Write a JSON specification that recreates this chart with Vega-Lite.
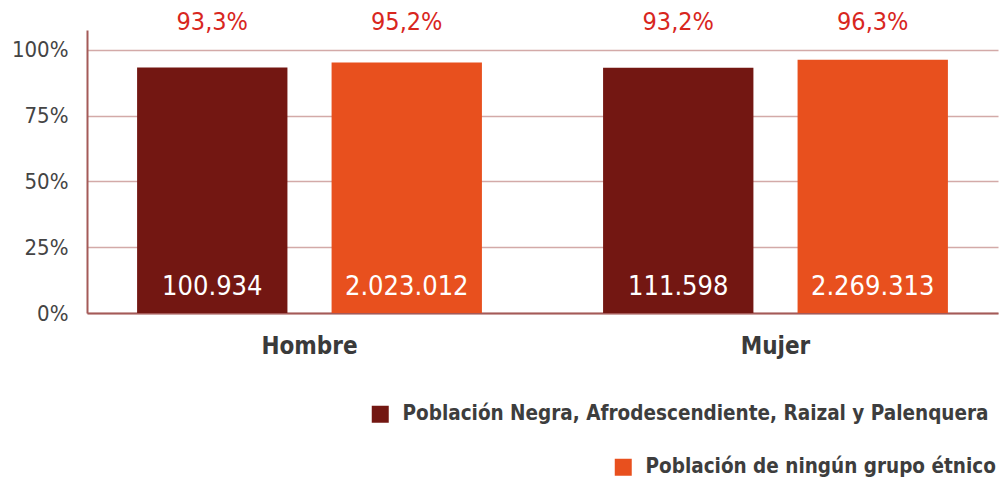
{
  "$schema": "https://vega.github.io/schema/vega-lite/v6.json",
  "autosize": {"type": "none"},
  "width": 911,
  "height": 283,
  "padding": {"left": 87, "top": 30, "right": 4, "bottom": 169},
  "background": "#ffffff",
  "config": {
    "view": {"stroke": null},
    "font": "DejaVu Sans Condensed, sans-serif",
    "locale": {"number": {"decimal": ",", "thousands": ".", "grouping": [3], "currency": ["$", ""]}}
  },
  "data": {
    "values": [
      {"sexo": "Hombre", "serie": "Población Negra, Afrodescendiente, Raizal y Palenquera", "pct": 0.933, "n": 100934},
      {"sexo": "Hombre", "serie": "Población de ningún grupo étnico", "pct": 0.952, "n": 2023012},
      {"sexo": "Mujer", "serie": "Población Negra, Afrodescendiente, Raizal y Palenquera", "pct": 0.932, "n": 111598},
      {"sexo": "Mujer", "serie": "Población de ningún grupo étnico", "pct": 0.963, "n": 2269313}
    ]
  },
  "encoding": {
    "x": {
      "field": "sexo", "type": "nominal", "sort": ["Hombre", "Mujer"],
      "scale": {"paddingInner": 0.26, "paddingOuter": 0.1075},
      "axis": {
        "title": null, "labelAngle": 0, "ticks": false, "labelPadding": 21,
        "labelFontSize": 24, "labelFontWeight": "bold", "labelColor": "#3a3a3a",
        "domainColor": "#a45a58", "domainWidth": 2, "grid": false
      }
    },
    "xOffset": {
      "field": "serie", "type": "nominal",
      "scale": {"domain": ["Población Negra, Afrodescendiente, Raizal y Palenquera", "Población de ningún grupo étnico"], "paddingInner": 0.227, "paddingOuter": 0}
    }
  },
  "layer": [
    {
      "transform": [{"filter": "datum.serie === 'Población Negra, Afrodescendiente, Raizal y Palenquera'"}],
      "mark": {"type": "bar"},
      "encoding": {
        "y": {
          "field": "pct", "type": "quantitative",
          "scale": {"domain": [0, 1.076], "nice": false},
          "axis": {
            "title": null, "values": [0, 0.25, 0.5, 0.75, 1], "format": ".0%",
            "ticks": false, "labelPadding": 19, "labelFontSize": 22, "labelColor": "#444444",
            "gridColor": "#d3aaa8", "gridWidth": 1.5, "domainColor": "#a45a58", "domainWidth": 2
          }
        },
        "color": {
          "field": "serie", "type": "nominal",
          "scale": {"domain": ["Población Negra, Afrodescendiente, Raizal y Palenquera"], "range": ["#731712"]},
          "legend": {
            "title": null, "orient": "none", "legendX": 283, "legendY": 374, "padding": 0,
            "symbolType": "square", "symbolSize": 289, "symbolStrokeWidth": 0, "labelOffset": 12,
            "labelFontSize": 20.5, "labelFontWeight": "bold", "labelColor": "#3d3d3d", "labelLimit": 800
          }
        }
      }
    },
    {
      "transform": [{"filter": "datum.serie === 'Población de ningún grupo étnico'"}],
      "mark": {"type": "bar"},
      "encoding": {
        "y": {"field": "pct", "type": "quantitative"},
        "fill": {
          "field": "serie", "type": "nominal",
          "scale": {"domain": ["Población de ningún grupo étnico"], "range": ["#e8501e"]},
          "legend": {
            "title": null, "orient": "none", "legendX": 526, "legendY": 427, "padding": 0,
            "symbolType": "square", "symbolSize": 289, "symbolStrokeWidth": 0, "labelOffset": 12,
            "labelFontSize": 20.5, "labelFontWeight": "bold", "labelColor": "#3d3d3d", "labelLimit": 800
          }
        }
      }
    },
    {
      "mark": {"type": "text", "baseline": "middle", "dy": -28, "fontSize": 25, "color": "#d8261e"},
      "encoding": {
        "y": {"datum": 1, "type": "quantitative"},
        "text": {"field": "pct", "type": "quantitative", "format": ".1%"}
      }
    },
    {
      "mark": {"type": "text", "baseline": "middle", "dy": -26, "fontSize": 27, "color": "#ffffff"},
      "encoding": {
        "y": {"datum": 0, "type": "quantitative"},
        "text": {"field": "n", "type": "quantitative", "format": ",d"}
      }
    }
  ]
}
